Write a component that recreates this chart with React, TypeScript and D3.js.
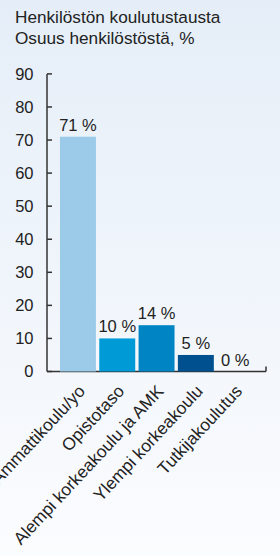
import * as d3 from "d3";

const categories = [
  "Ammattikoulu/yo",
  "Opistotaso",
  "Alempi korkeakoulu ja AMK",
  "Ylempi korkeakoulu",
  "Tutkijakoulutus",
];
const values = [71, 10, 14, 5, 0];
const barColors = ["#9bcbe9", "#009ad6", "#0084c3", "#00508f", "#00508f"];
const yTicks = [0, 10, 20, 30, 40, 50, 60, 70, 80, 90];
const title = ["Henkilöstön koulutustausta", "Osuus henkilöstöstä, %"];

const W = 280;
const H = 556;
const font = "'Liberation Sans', Arial, sans-serif";

const App = () => {
  const axisX = 47;
  const axisEnd = 266;
  const y = d3.scaleLinear().domain([0, 90]).range([371.5, 73.9]);
  const x = d3
    .scaleBand<string>()
    .domain(categories)
    .range([58.3, 254.8])
    .paddingInner(0.085)
    .paddingOuter(0.0425);

  return (
    <svg
      width={W}
      height={H}
      style={{ position: "absolute", left: 0, top: 0, fontFamily: font }}
    >
      <defs>
        <linearGradient id="bg" x1="0" y1="0" x2="0" y2="1">
          <stop offset="0" stopColor="#e5eef8" />
          <stop offset="1" stopColor="#fbfcfe" />
        </linearGradient>
      </defs>
      <rect width={W} height={H} fill="url(#bg)" />

      {title.map((t, i) => (
        <text key={t} x={15} y={23.3 + i * 20.8} fontSize={17.2} fill="#222">
          {t}
        </text>
      ))}

      {/* y axis */}
      <g>
        <line x1={axisX} x2={axisX} y1={y(90)} y2={y(0)} stroke="#333" strokeWidth={1.5} />
        <line x1={axisX} x2={axisEnd} y1={y(0)} y2={y(0)} stroke="#333" strokeWidth={1.5} />
        <line x1={axisEnd} x2={axisEnd} y1={y(0)} y2={y(0) - 5} stroke="#333" strokeWidth={1.5} />
        {yTicks.map((t) => (
          <g key={t}>
            <line x1={axisX} x2={axisX + 5} y1={y(t)} y2={y(t)} stroke="#333" strokeWidth={1.5} />
            <text
              x={33.5}
              y={y(t)}
              dy="0.36em"
              textAnchor="end"
              fontSize={16.5}
              fill="#222"
            >
              {t}
            </text>
          </g>
        ))}
      </g>

      {/* bars */}
      {categories.map((c, i) => (
        <g key={c}>
          <rect
            x={x(c)}
            y={y(values[i])}
            width={x.bandwidth()}
            height={y(0) - y(values[i])}
            fill={barColors[i]}
          />
          <text
            x={x(c)! + x.bandwidth() / 2}
            y={y(values[i]) - 6}
            textAnchor="middle"
            fontSize={16.5}
            fill="#222"
          >
            {values[i]} %
          </text>
          <text
            transform={`translate(${x(c)! + x.bandwidth() / 2 + 8},${y(0) + 20.5}) rotate(-47)`}
            textAnchor="end"
            fontSize={17.3}
            fill="#222"
          >
            {c}
          </text>
        </g>
      ))}
    </svg>
  );
};

export default App;
